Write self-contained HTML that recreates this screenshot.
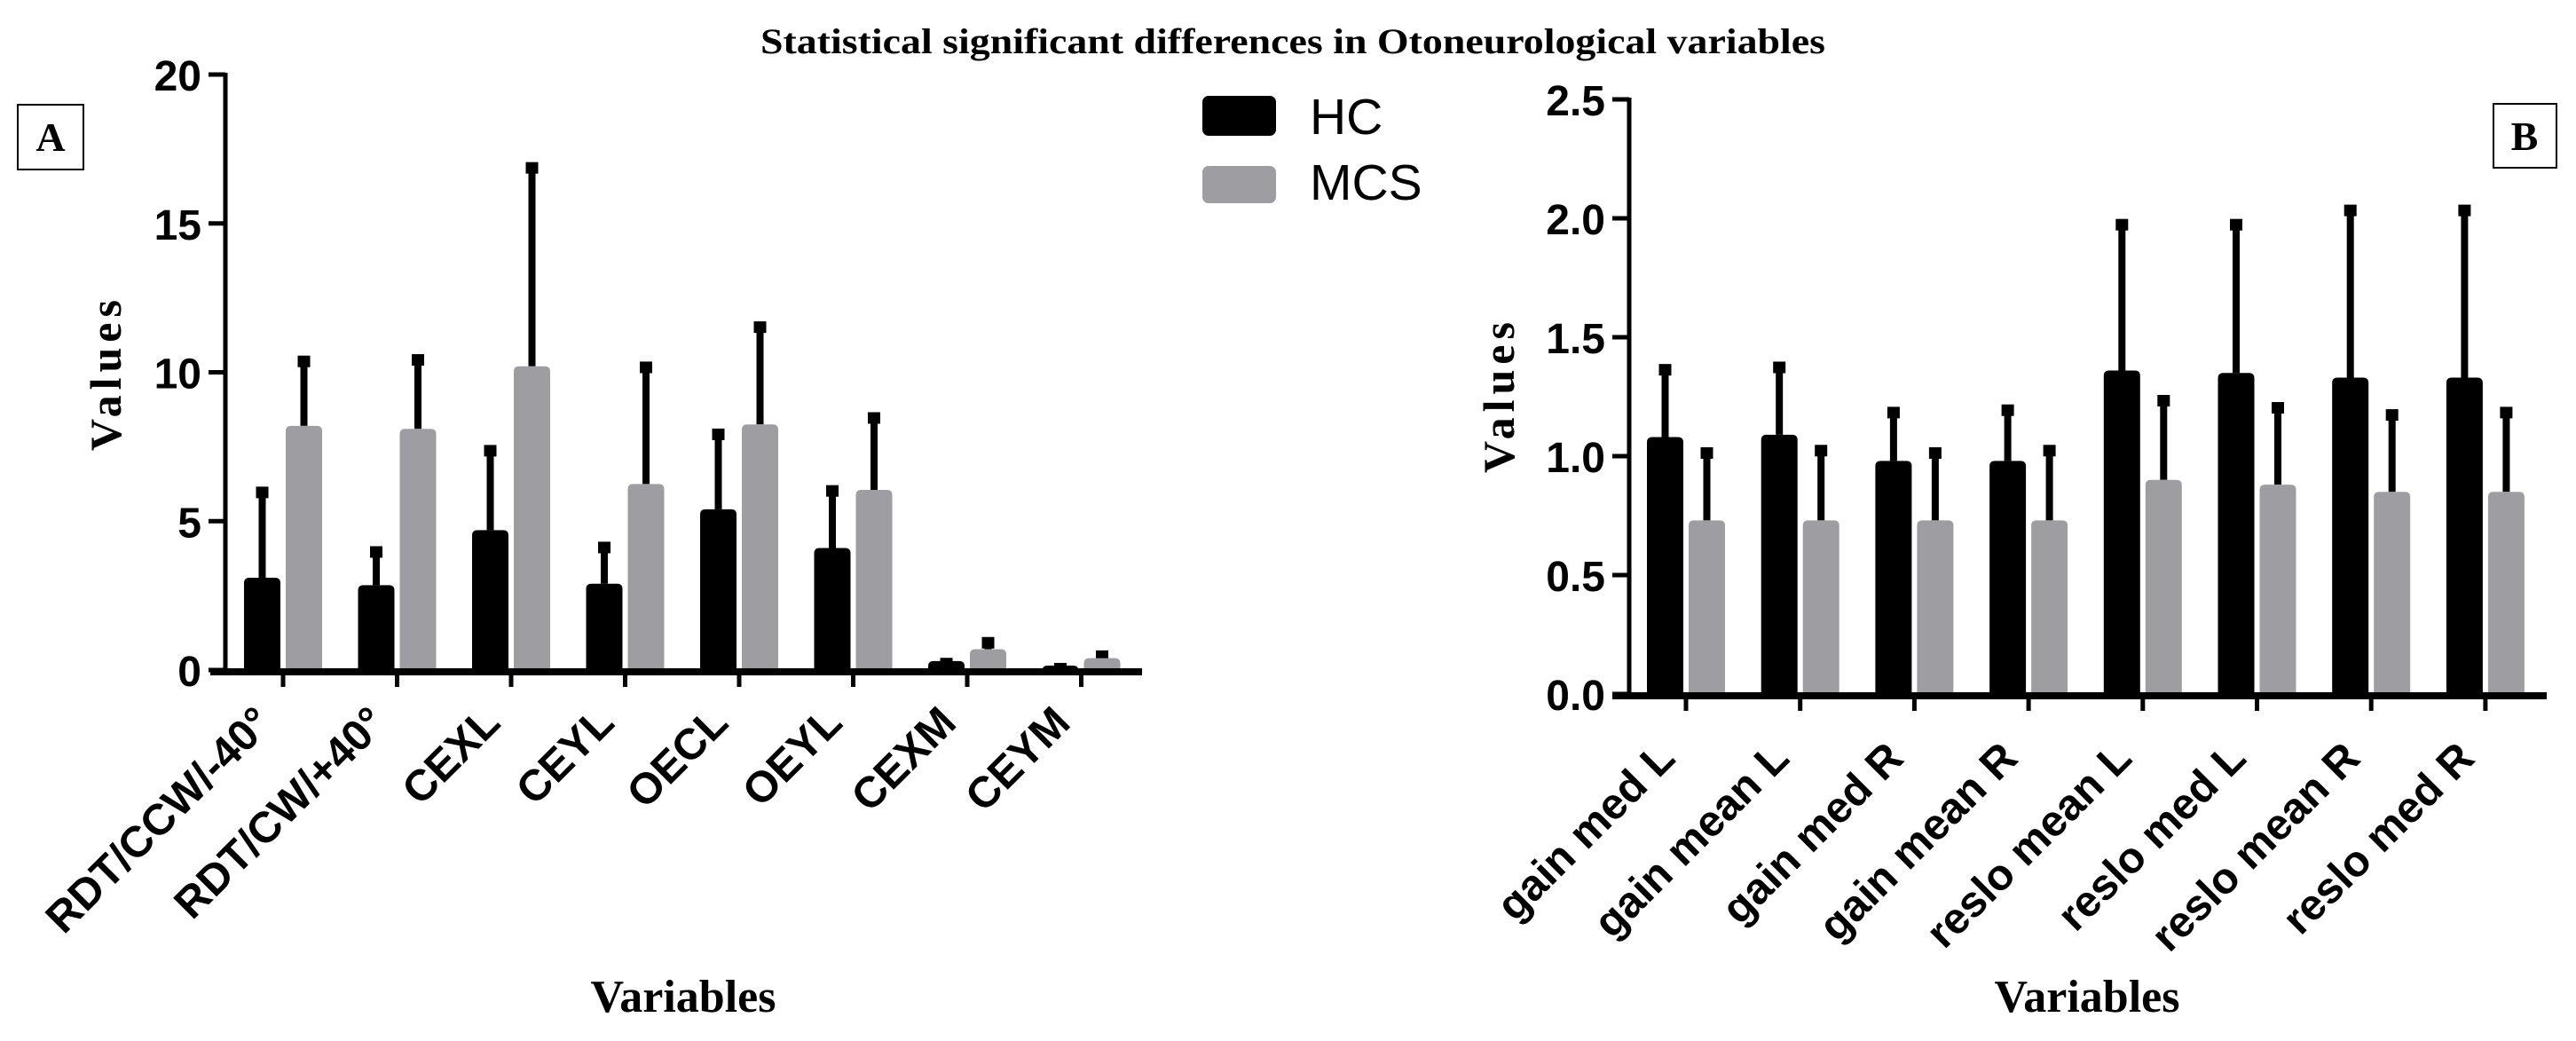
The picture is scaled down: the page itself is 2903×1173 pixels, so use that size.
<!DOCTYPE html>
<html><head><meta charset="utf-8"><style>
html,body{margin:0;padding:0;background:#fff;}
svg{display:block;}
</style></head><body>
<svg id="chart" width="2903" height="1173" viewBox="0 0 2903 1173" xmlns="http://www.w3.org/2000/svg">
<rect width="2903" height="1173" fill="#fff"/>
<text x="1457" y="60" text-anchor="middle" font-family="Liberation Serif, serif" font-weight="bold" font-size="40" textLength="1200" lengthAdjust="spacingAndGlyphs">Statistical significant differences in Otoneurological variables</text>
<g><rect x="20" y="118" width="74" height="73" fill="#fff" stroke="#000" stroke-width="2"/><text x="57" y="170" text-anchor="middle" font-family="Liberation Serif, serif" font-weight="bold" font-size="46">A</text></g>
<g><rect x="2810" y="117" width="71" height="72" fill="#fff" stroke="#000" stroke-width="2"/><text x="2845" y="169" text-anchor="middle" font-family="Liberation Serif, serif" font-weight="bold" font-size="46">B</text></g>
<g>
<g><rect x="1355" y="108" width="83" height="45" rx="7" fill="#000"/><text x="1476" y="151" font-family="Liberation Sans, sans-serif" font-size="57">HC</text></g>
<g><rect x="1355" y="187" width="83" height="42" rx="7" fill="#9e9ea2"/><text x="1476" y="225" font-family="Liberation Sans, sans-serif" font-size="57">MCS</text></g>
</g>
<g id="pa"></g>
<g id="pb"></g>
</svg>
<script>
const catsA = ["RDT/CCW/-40°","RDT/CW/+40°","CEXL","CEYL","OECL","OEYL","CEXM","CEYM"];
const hcA = [3.1, 2.85, 4.7, 2.9, 5.4, 4.1, 0.3, 0.15];
const hcErrA = [6.1, 4.1, 7.5, 4.25, 8.05, 6.15, 0.35, 0.18];
const mcsA = [8.2, 8.1, 10.2, 6.25, 8.25, 6.05, 0.7, 0.4];
const mcsErrA = [10.5, 10.55, 17.0, 10.3, 11.65, 8.6, 1.05, 0.6];
const ticksA = [0, 5, 10, 15, 20];
const tickLabelsA = ["0", "5", "10", "15", "20"];

const catsB = ["gain med L","gain mean L","gain med R","gain mean R","reslo mean L","reslo med L","reslo mean R","reslo med R"];
const hcB = [1.08, 1.09, 0.98, 0.98, 1.36, 1.35, 1.33, 1.33];
const hcErrB = [1.38, 1.39, 1.2, 1.21, 1.99, 1.99, 2.05, 2.05];
const mcsB = [0.73, 0.73, 0.73, 0.73, 0.9, 0.88, 0.85, 0.85];
const mcsErrB = [1.03, 1.04, 1.03, 1.04, 1.25, 1.22, 1.19, 1.2];
const ticksB = [0, 0.5, 1.0, 1.5, 2.0, 2.5];
const tickLabelsB = ["0.0", "0.5", "1.0", "1.5", "2.0", "2.5"];

const NS = "http://www.w3.org/2000/svg";
function mk(parent, tag, attrs, text) {
  const e = document.createElementNS(NS, tag);
  for (const k in attrs) e.setAttribute(k, attrs[k]);
  if (text !== undefined) e.textContent = text;
  parent.appendChild(e);
  return e;
}
function drawPanel(g, cfg, cats, hc, hcErr, mcs, mcsErr, ticks, tickLabels) {
  const y = v => cfg.y0 - (v - 0) / cfg.max * (cfg.y0 - cfg.yTop);
  const x = i => cfg.x0 + i * cfg.step;
  cats.forEach((c, i) => {
    const t = x(i);
    const series = [[hc[i], hcErr[i], t - 44, "#000", "hc"], [mcs[i], mcsErr[i], t + 3, "#9e9ea2", "mcs"]];
    series.forEach(s => {
      const [v, e, bx, col, nm] = s;
      const cx = bx + 20.5;
      const ln = mk(g, "line", {x1: cx, x2: cx, y1: y(v), y2: y(e) + 2, stroke: "#000", "stroke-width": 8});
      
      
      const cap = mk(g, "rect", {x: cx - 7, y: y(e) - 2, width: 14, height: 13, fill: "#000"});
      
      
      const r = mk(g, "path", {d: `M${bx},${cfg.y0} V${y(v)+6} Q${bx},${y(v)} ${bx+6},${y(v)} H${bx+35} Q${bx+41},${y(v)} ${bx+41},${y(v)+6} V${cfg.y0} Z`, fill: col});
      
      
    });
    const tk = mk(g, "line", {x1: t, x2: t, y1: cfg.y0, y2: cfg.y0 + 19, stroke: "#000", "stroke-width": 5});
    
    
    const lx = t - 10, ly = cfg.y0 + cfg.labDy;
    const lb = mk(g, "text", {x: lx, y: ly, "text-anchor": "end", transform: `rotate(-45 ${lx} ${ly})`, "font-family": "Liberation Sans, sans-serif", "font-weight": "bold", "font-size": 49}, c);
    
    
  });
  const ya = mk(g, "line", {x1: cfg.ax, x2: cfg.ax, y1: cfg.yTop - 2, y2: cfg.y0, stroke: "#000", "stroke-width": 5});
  
  
  const xa = mk(g, "line", {x1: cfg.xs, x2: cfg.xe, y1: cfg.y0 + 2, y2: cfg.y0 + 2, stroke: "#000", "stroke-width": 8});
  
  
  ticks.forEach((v, i) => {
    const tl = mk(g, "line", {x1: cfg.ax - 19, x2: cfg.ax, y1: y(v), y2: y(v), stroke: "#000", "stroke-width": 5});
    
    
    const tt = mk(g, "text", {x: cfg.ax - 27, y: y(v) + 18, "text-anchor": "end", "font-family": "Liberation Sans, sans-serif", "font-weight": "bold", "font-size": 48}, tickLabels[i]);
    
    
  });
  const yt = mk(g, "text", {x: cfg.ytx, y: cfg.yty, "text-anchor": "middle", transform: `rotate(-90 ${cfg.ytx} ${cfg.yty})`, "font-family": "Liberation Serif, serif", "font-weight": "bold", "font-size": 50, "letter-spacing": 6}, "Values");
  
  
  const xt = mk(g, "text", {x: cfg.xtx, y: 1140, "text-anchor": "middle", "font-family": "Liberation Serif, serif", "font-weight": "bold", "font-size": 52}, "Variables");
  
  
}
drawPanel(document.getElementById("pa"),
  {y0: 755, yTop: 84, max: 20, x0: 319, step: 128.5, ax: 254, xs: 237, xe: 1287, labDy: 62, ytx: 136, yty: 420, xtx: 770},
  catsA, hcA, hcErrA, mcsA, mcsErrA, ticksA, tickLabelsA);
drawPanel(document.getElementById("pb"),
  {y0: 782, yTop: 112, max: 2.5, x0: 1900, step: 128.7, ax: 1836, xs: 1817, xe: 2870, labDy: 75, ytx: 1706, yty: 445, xtx: 2352},
  catsB, hcB, hcErrB, mcsB, mcsErrB, ticksB, tickLabelsB);
</script>
</body></html>
